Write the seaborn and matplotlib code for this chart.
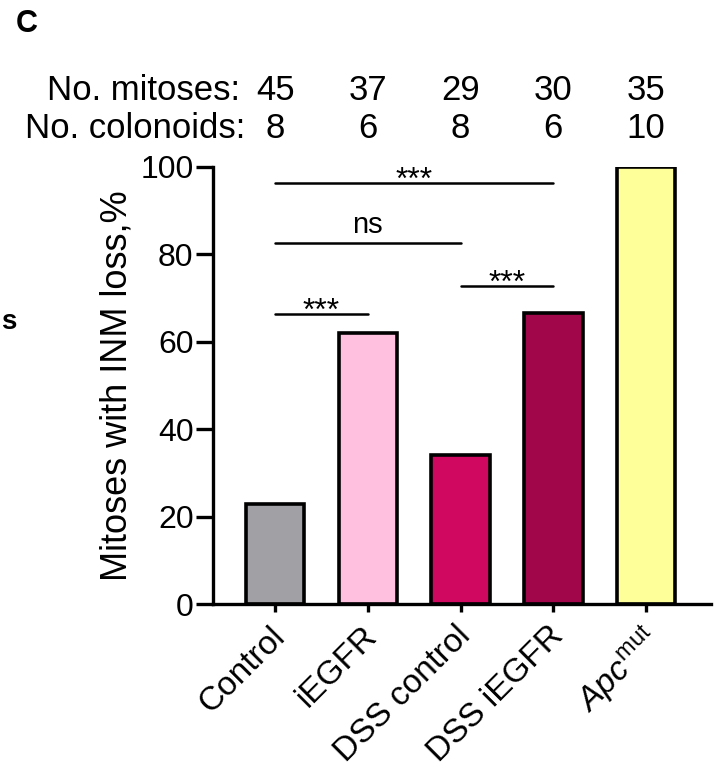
import matplotlib
matplotlib.use("Agg")
import matplotlib.pyplot as plt
import matplotlib.transforms as mtransforms
import seaborn as sns
import pandas as pd

# data
groups = ["Control", "iEGFR", "DSS control", "DSS iEGFR", "Apc_mut"]
inm_loss_pct = [22.8, 61.9, 34.2, 66.5, 100.0]
n_mitoses = [45, 37, 29, 30, 35]
n_colonoids = [8, 6, 8, 6, 10]
bar_colors = ["#a1a0a5", "#ffbfdf", "#d1085f", "#a1064b", "#ffff99"]
tick_labels = ["Control", "iEGFR", "DSS control", "DSS iEGFR", r"$\it{Apc}^{\rm mut}$"]

# significance brackets: (from group, to group, y, label)
sig_pairs = [(0, 3, 96.3, "***"), (0, 2, 82.6, "ns"), (0, 1, 66.4, "***"), (2, 3, 72.8, "***")]

sns.set_theme(style="white")
plt.rcParams["font.family"] = ["Liberation Sans", "DejaVu Sans"]
plt.rcParams.update({
    "text.color": "black",
    "axes.labelcolor": "black",
    "xtick.color": "black",
    "ytick.color": "black",
    "mathtext.fontset": "custom",
    "mathtext.rm": "Liberation Sans",
    "mathtext.it": "Liberation Sans:italic",
})

df = pd.DataFrame({"group": groups, "pct": inm_loss_pct})

fig = plt.figure(figsize=(7.2, 7.69), dpi=100)
ax = fig.add_axes([213 / 720, 1 - 604 / 769, (711 - 213) / 720, (604 - 167) / 769])

sns.barplot(data=df, x="group", y="pct", hue="group", palette=bar_colors,
            legend=False, width=0.63, edgecolor="black", linewidth=2.6,
            saturation=1, ax=ax)

ax.set_xlim(-0.67, 4.70)
ax.set_ylim(0, 100)
ax.set_yticks([0, 20, 40, 60, 80, 100])
ax.set_xticks(range(len(groups)))
ax.set_xticklabels(tick_labels, rotation=45, ha="right", rotation_mode="anchor", fontsize=24)
ax.tick_params(axis="y", labelsize=23, length=12, width=2.4, direction="out", pad=2, left=True)
ax.tick_params(axis="x", length=6, width=2.4, direction="out", pad=6, bottom=True)
ax.set_xlabel("")
ax.set_ylabel("Mitoses with INM loss,%", fontsize=26, labelpad=4)

# nudge the rotated labels a little to the left
offset = mtransforms.ScaledTranslation(-6 / 100, 0, fig.dpi_scale_trans)
for lab in ax.get_xticklabels():
    lab.set_transform(lab.get_transform() + offset)

for side in ["top", "right"]:
    ax.spines[side].set_visible(False)
for side in ["left", "bottom"]:
    ax.spines[side].set_linewidth(2.4)
    ax.spines[side].set_color("black")

for x0, x1, y, lab in sig_pairs:
    ax.plot([x0, x1], [y, y], color="black", lw=1.8, clip_on=False)
    if lab == "ns":
        ax.text((x0 + x1) / 2, y + 2.3, lab, ha="center", va="baseline", fontsize=21)
    else:
        ax.text((x0 + x1) / 2, y - 1.3, lab, ha="center", va="baseline", fontsize=23)

# count rows above the plot
trans = ax.get_xaxis_transform()
fig.text(240 / 720, 1 - 90 / 769, "No. mitoses:", ha="right", va="center", fontsize=25)
fig.text(245 / 720, 1 - 129 / 769, "No. colonoids:", ha="right", va="center", fontsize=25)
for i in range(len(groups)):
    ax.text(i, (604 - 90) / 437, str(n_mitoses[i]), transform=trans,
            ha="center", va="center", fontsize=25)
    ax.text(i, (604 - 129) / 437, str(n_colonoids[i]), transform=trans,
            ha="center", va="center", fontsize=25)

fig.text(16 / 720, 1 - 24 / 769, "C", ha="left", va="center", fontsize=22, weight="bold")
fig.text(1 / 720, 1 - 322 / 769, "s", ha="left", va="center", fontsize=20, weight="bold")

fig.savefig("out.png", dpi=100)
